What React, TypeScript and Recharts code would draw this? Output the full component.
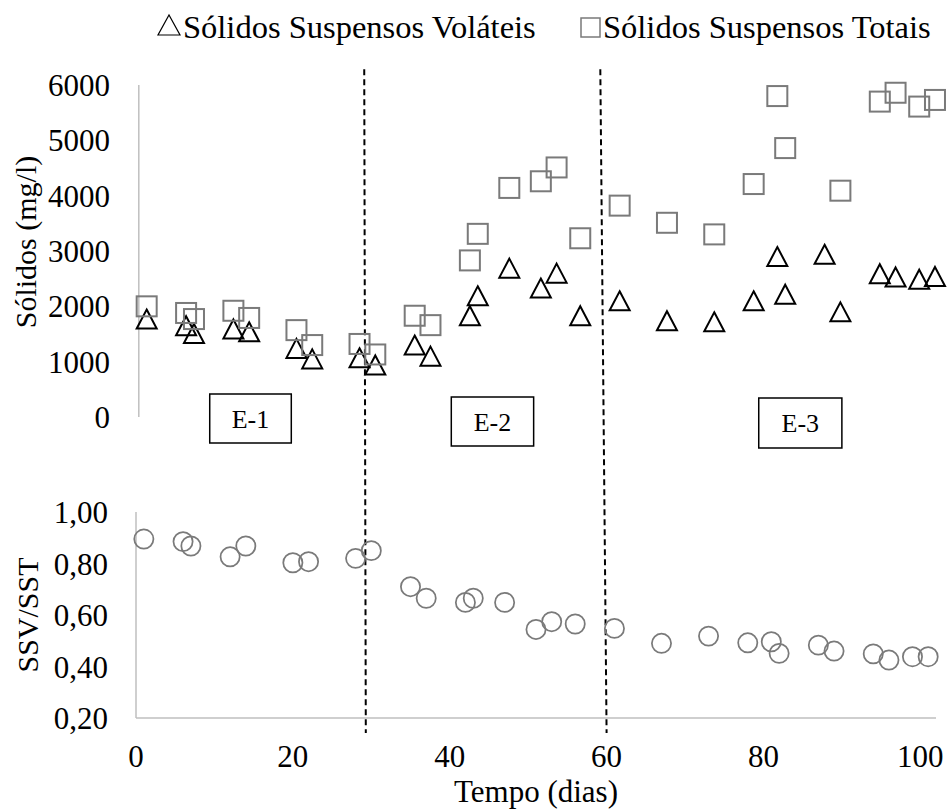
import React from 'react';
import { ScatterChart, Scatter, XAxis, YAxis, ReferenceLine, ReferenceArea } from 'recharts';

// sampling days shared by all three series
const days = [1, 6, 7, 12, 14, 20, 22, 28, 30, 35, 37, 42, 43, 47, 51, 53, 56, 61, 67, 73, 78, 81, 82, 87, 89, 94, 96, 99, 101];

// Sólidos Suspensos Voláteis (mg/l)
const ssv = [1770, 1650, 1510, 1590, 1540, 1240, 1050, 1070, 940, 1300, 1100, 1830, 2190, 2690, 2330, 2600, 1830, 2100, 1740, 1720, 2100, 2900, 2220, 2940, 1900, 2590, 2530, 2490, 2540];

// Sólidos Suspensos Totais (mg/l) - day 87 is above the axis maximum
const sst = [2000, 1880, 1770, 1920, 1790, 1570, 1300, 1320, 1130, 1830, 1660, 2830, 3310, 4140, 4260, 4510, 3230, 3820, 3510, 3300, 4210, 5800, 4860, null, 4090, 5700, 5860, 5610, 5730];

// SSV/SST
const ratio = [0.895, 0.885, 0.868, 0.826, 0.868, 0.803, 0.807, 0.82, 0.85, 0.71, 0.665, 0.649, 0.665, 0.649, 0.544, 0.574, 0.565, 0.548, 0.49, 0.518, 0.492, 0.496, 0.451, 0.483, 0.46, 0.449, 0.425, 0.438, 0.438];

const xTicks = [0, 20, 40, 60, 80, 100];
const solidsTicks = [0, 1000, 2000, 3000, 4000, 5000, 6000];
const ratioTicks = [0.2, 0.4, 0.6, 0.8, 1.0];

// operating phases (labels and box extents in axis units)
const phases = [
  { name: 'E-1', from: 9.4, to: 19.8, low: -470, high: 416 },
  { name: 'E-2', from: 40.2, to: 50.7, low: -524, high: 362 },
  { name: 'E-3', from: 79.4, to: 90.0, low: -561, high: 344 },
];
// phase boundaries (hand drawn, slightly slanted)
const dividers = [
  { top: 29.1, bottom: 29.3 },
  { top: 59.2, bottom: 60.0 },
];

const FONT = '"Liberation Serif", Tinos, "Times New Roman", "DejaVu Serif", serif';
const AXIS_GRAY = '#bfbfbf';
const MARK_GRAY = '#7a7a7a';

// both panels share one plot area; each y axis is anchored to its own panel
const W = 947;
const H = 811;
const PLOT_LEFT = 136;
const PLOT_RIGHT = 936;
const PLOT_TOP = 66;
const PLOT_BOTTOM = 733;

function panelDomain(v0: number, y0: number, v1: number, y1: number): [number, number] {
  const k = (v1 - v0) / (y0 - y1);
  return [v0 - (PLOT_BOTTOM - y0) * k, v1 + (y1 - PLOT_TOP) * k];
}

// the upper panel sits a little to the right and is a touch wider than the lower one
function shiftedDays(x0: number, pxPerDay: number): [number, number] {
  return [(PLOT_LEFT - x0) / pxPerDay, (PLOT_RIGHT - x0) / pxPerDay];
}

const solidsDomain = panelDomain(0, 417, 6000, 85);
const ratioDomain = panelDomain(0.2, 718, 1.0, 512);
const upperDays = shiftedDays(138.8, 7.883);

const ssvData = days.map((day, i) => ({ day, value: ssv[i] }));
const sstData = days
  .map((day, i) => ({ day, value: sst[i] }))
  .filter((d) => d.value !== null);
const ratioData = days.map((day, i) => ({ day, value: ratio[i] }));

const Triangle = (props: any) => {
  const { cx, cy } = props;
  const w = 20;
  const h = 19;
  return (
    <path
      d={`M${cx},${cy - h / 2}L${cx + w / 2},${cy + h / 2}L${cx - w / 2},${cy + h / 2}Z`}
      fill="none"
      stroke="#000"
      strokeWidth={2}
    />
  );
};

const Square = (props: any) => {
  const { cx, cy } = props;
  return <rect x={cx - 10} y={cy - 10} width={20} height={20} fill="none" stroke={MARK_GRAY} strokeWidth={2} />;
};

const Ring = (props: any) => {
  const { cx, cy } = props;
  return <circle cx={cx} cy={cy} r={9.6} fill="none" stroke={MARK_GRAY} strokeWidth={1.75} />;
};

const tickStyle = { fill: '#000', fontSize: 31, fontFamily: FONT };
const fmtRatio = (v: number) => v.toFixed(2).replace('.', ',');

export default function App() {
  return (
    <div style={{ position: 'absolute', left: 0, top: 0, width: W, height: H, background: '#fff' }}>
      <ScatterChart
        width={W}
        height={H}
        margin={{ top: PLOT_TOP, right: W - PLOT_RIGHT, bottom: 0, left: PLOT_LEFT - 2 }}
      >
        <XAxis
          xAxisId="t"
          dataKey="day"
          type="number"
          domain={[0, 102]}
          ticks={xTicks}
          axisLine={false}
          tickLine={false}
          tickSize={0}
          tickMargin={12}
          height={H - PLOT_BOTTOM}
          tick={tickStyle}
          label={{ value: 'Tempo (dias)', position: 'insideBottom', offset: 9, fill: '#000', fontSize: 31, fontFamily: FONT }}
        />
        <XAxis xAxisId="u" dataKey="day" type="number" domain={upperDays} hide />
        <YAxis
          yAxisId="ratio"
          dataKey="value"
          type="number"
          domain={ratioDomain}
          ticks={ratioTicks}
          tickFormatter={fmtRatio}
          width={1}
          axisLine={false}
          tickLine={false}
          tickSize={0}
          tickMargin={28}
          tick={tickStyle}
        />
        <YAxis
          yAxisId="solids"
          dataKey="value"
          type="number"
          domain={solidsDomain}
          ticks={solidsTicks}
          width={1}
          axisLine={false}
          tickLine={false}
          tickSize={0}
          tickMargin={25}
          tick={tickStyle}
        />

        {/* axis lines of the two panels */}
        <ReferenceLine
          xAxisId="u"
          yAxisId="solids"
          segment={[{ x: 0, y: 0 }, { x: 0, y: 6000 }]}
          stroke={AXIS_GRAY}
          strokeWidth={1.5}
          ifOverflow="visible"
        />
        <ReferenceLine
          xAxisId="t"
          yAxisId="ratio"
          segment={[{ x: 0, y: 0.2 }, { x: 0, y: 1.0 }]}
          stroke={AXIS_GRAY}
          strokeWidth={1.5}
          ifOverflow="visible"
        />
        <ReferenceLine
          xAxisId="t"
          yAxisId="ratio"
          segment={[{ x: 0, y: 0.2 }, { x: 102, y: 0.2 }]}
          stroke={AXIS_GRAY}
          strokeWidth={1.5}
          ifOverflow="visible"
        />

        {dividers.map((d, i) => (
          <ReferenceLine
            key={i}
            xAxisId="t"
            yAxisId="solids"
            segment={[{ x: d.top, y: solidsDomain[1] - 60 }, { x: d.bottom, y: solidsDomain[0] }]}
            stroke="#000"
            strokeWidth={2}
            strokeDasharray="6 4"
            ifOverflow="visible"
          />
        ))}

        {phases.map((p) => (
          <ReferenceArea
            key={p.name}
            xAxisId="t"
            yAxisId="solids"
            x1={p.from}
            x2={p.to}
            y1={p.low}
            y2={p.high}
            fill="#fff"
            fillOpacity={1}
            stroke="#000"
            strokeWidth={1.5}
            ifOverflow="visible"
            label={{ value: p.name, position: 'center', fill: '#000', fontSize: 26, fontFamily: FONT }}
          />
        ))}

        <Scatter xAxisId="u" yAxisId="solids" data={ssvData} shape={Triangle} isAnimationActive={false} />
        <Scatter xAxisId="u" yAxisId="solids" data={sstData} shape={Square} isAnimationActive={false} />
        <Scatter xAxisId="t" yAxisId="ratio" data={ratioData} shape={Ring} isAnimationActive={false} />
      </ScatterChart>

      {/* legend and y axis titles */}
      <svg width={W} height={H} style={{ position: 'absolute', left: 0, top: 0, pointerEvents: 'none' }}>
        <g fontFamily={FONT} fill="#000">
          <path d="M158,35L180,35L169,15Z" fill="none" stroke="#000" strokeWidth={1.2} />
          <text x={183} y={38} fontSize={32.5}>Sólidos Suspensos Voláteis</text>
          <rect x={581} y={18} width={19} height={19} fill="none" stroke={MARK_GRAY} strokeWidth={1.5} />
          <text x={603} y={38} fontSize={32.5}>Sólidos Suspensos Totais</text>
          <text x={25} y={242} fontSize={30} textAnchor="middle" dominantBaseline="central" transform="rotate(-90 25 242)">
            Sólidos (mg/l)
          </text>
          <text x={27} y={615} fontSize={30} textAnchor="middle" dominantBaseline="central" transform="rotate(-90 27 615)">
            SSV/SST
          </text>
        </g>
      </svg>
    </div>
  );
}
